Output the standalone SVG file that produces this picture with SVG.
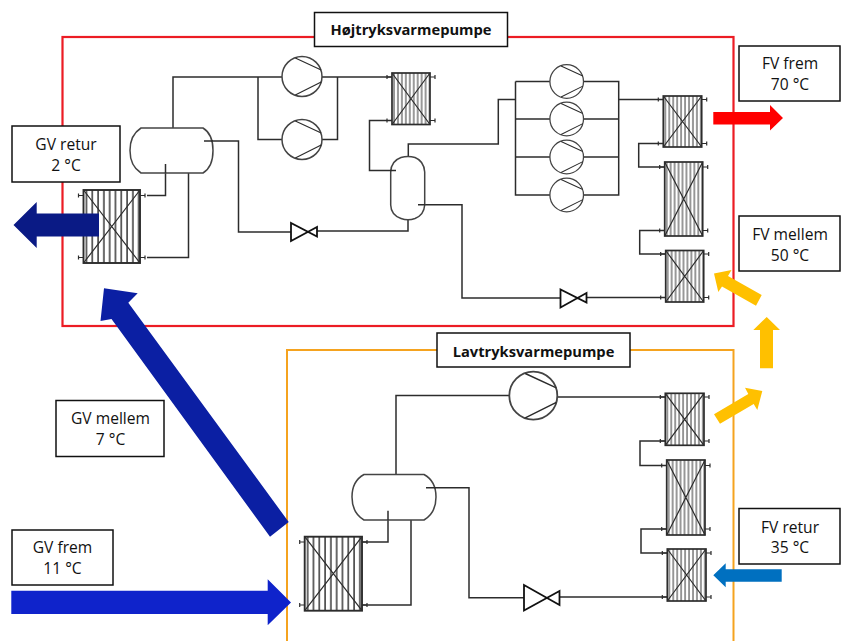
<svg xmlns="http://www.w3.org/2000/svg" width="841" height="641" viewBox="0 0 841 641">
<style>
.pipe{fill:none;stroke:#2c2c2c;stroke-width:1.5}
.hxb{fill:url(#h4);stroke:#2c2c2c;stroke-width:1.7}
.hxw{fill:url(#h6);stroke:#2c2c2c;stroke-width:1.9}
.x{fill:none;stroke:#2c2c2c;stroke-width:1.2}
.drum{fill:#fff;stroke:#444;stroke-width:1.5}
.cp{fill:#fff;stroke:#444;stroke-width:1.5}
.valve{fill:#fff;stroke:#111;stroke-width:1.8}
.lbl{fill:#fff;stroke:#111;stroke-width:1.5}
text{font-family:"Open Sans","Noto Sans","Liberation Sans",sans-serif;font-size:15.6px;fill:#111;text-anchor:middle}
.t{font-weight:700;font-size:14.7px}
</style>
<defs>
<pattern id="h4" width="3.95" height="10" patternUnits="userSpaceOnUse"><rect width="3.95" height="10" fill="#fff"/><rect x="1.4" width="1.2" height="10" fill="#555"/></pattern>
<pattern id="h6" width="5.8" height="10" patternUnits="userSpaceOnUse"><rect width="5.8" height="10" fill="#fff"/><rect x="2.2" width="1.6" height="10" fill="#444"/></pattern>
<g id="comp"><circle r="20" class="cp"/><path class="x" d="M-6.700-18.500 19.200-6.500M-6.700 18.500 19.200 5.500"/></g>
<path id="pL" d="M0 0H-5M-5-2V2" class="x"/>
<path id="pR" d="M0 0H5M5-2V2" class="x"/>
</defs>

<rect id="hp-frame" x="62.500" y="37" width="671" height="289" fill="none" stroke="#ec1c24" stroke-width="2.200"/>
<rect id="lp-frame" x="287" y="350" width="446.500" height="300" fill="none" stroke="#f5a31f" stroke-width="2"/>

<g id="connectors" class="pipe">
<path d="M173 128V77H282M258 77V139.500H282M322 77H392M337.500 77V139.500H322"/>
<path d="M204 141H238.500V232H291M317 231H408V220"/>
<path d="M165.500 164V195.500H147M188.500 173V257.500H147"/>
<path d="M392 120.500H369.500V170.500H396M408.300 157V144H498.300V99.500H515.500"/>
<path d="M515.500 81.500V195H550M515.500 81.500H550M515.500 119H550M515.500 157H550M584 81.500H618.700V195H584M584 119H618.700M584 157H618.700M618.700 99.500H663"/>
<path d="M663 143.500H638.700V167H664.700M664.700 230.500H639.700V254H665.700"/>
<path d="M418 204.700H462V298H560M587 297.500H665.700"/>
<path d="M396 474.500V395.500H510M557 397H665.300"/>
<path d="M665.300 441H640V465.500H666.700M666.700 529H641V553H667.300"/>
<path d="M426 487.700H469V597.700H524M560 597H667.300"/>
<path d="M388 510.700V542H362M411 520V605H362"/>
</g>

<g id="hp-drum-h"><path class="drum" d="M141 128H203Q213 134 213 150.500T203 173H141Q130 166 130 150.500T141 128Z"/><path class="pipe" d="M204 141H213M165.500 164V173"/></g>
<g id="hp-drum-v"><path class="drum" d="M390.700 172Q391 161 401 157.500Q408 155.300 415 157.500Q424 161 424.700 172V205Q424 215 415 218.500Q408 221 401 218.500Q391 215 390.700 205Z"/><path class="pipe" d="M396 170.500H390M418 204.700H425"/></g>
<g id="lp-drum"><path class="drum" d="M364 474.500H424Q436 481 436 497T424 520H364Q352 513 352 497T364 474.500Z"/><path class="pipe" d="M426 487.700H436M388 510.700V520"/></g>

<g id="hx-hp-evap" transform="translate(83.500 190)"><rect class="hxw" width="56.500" height="73"/><path class="x" d="M0 0 56.500 73M56.500 0 0 73"/><use href="#pL" y="5.500"/><use href="#pL" y="67.500"/><use href="#pR" x="56.500" y="5.500"/><use href="#pR" x="56.500" y="67.500"/></g>
<g id="hx-hp-mid" transform="translate(392 73)"><rect class="hxb" width="38" height="51.500"/><path class="x" d="M0 0 38 51.500M38 0 0 51.500"/><use href="#pL" y="4"/><use href="#pL" y="47.500"/><use href="#pR" x="38" y="4"/><use href="#pR" x="38" y="47.500"/></g>
<g id="hx-hp-1" transform="translate(663.300 96)"><rect class="hxb" width="38.400" height="51"/><path class="x" d="M0 0 38.400 51M38.400 0 0 51"/><use href="#pL" y="3.500"/><use href="#pL" y="47.500"/><use href="#pR" x="38.400" y="3.500"/><use href="#pR" x="38.400" y="47.500"/></g>
<g id="hx-hp-2" transform="translate(664.700 162)"><rect class="hxb" width="38" height="74"/><path class="x" d="M0 0 38 74M38 0 0 74"/><use href="#pL" y="5"/><use href="#pL" y="68.500"/><use href="#pR" x="38" y="5"/><use href="#pR" x="38" y="68.500"/></g>
<g id="hx-hp-3" transform="translate(665.700 250.500)"><rect class="hxb" width="38" height="51.500"/><path class="x" d="M0 0 38 51.500M38 0 0 51.500"/><use href="#pL" y="3.500"/><use href="#pL" y="47"/><use href="#pR" x="38" y="3.500"/><use href="#pR" x="38" y="47"/></g>
<g id="hx-lp-1" transform="translate(665.300 393.300)"><rect class="hxb" width="38.700" height="52"/><path class="x" d="M0 0 38.700 52M38.700 0 0 52"/><use href="#pL" y="3.700"/><use href="#pL" y="47.700"/><use href="#pR" x="38.700" y="3.700"/><use href="#pR" x="38.700" y="47.700"/></g>
<g id="hx-lp-2" transform="translate(666.700 460)"><rect class="hxb" width="38.300" height="75"/><path class="x" d="M0 0 38.300 75M38.300 0 0 75"/><use href="#pL" y="5.500"/><use href="#pL" y="69"/><use href="#pR" x="38.300" y="5.500"/><use href="#pR" x="38.300" y="69"/></g>
<g id="hx-lp-3" transform="translate(667.300 549)"><rect class="hxb" width="38.700" height="52"/><path class="x" d="M0 0 38.700 52M38.700 0 0 52"/><use href="#pL" y="4"/><use href="#pL" y="48"/><use href="#pR" x="38.700" y="4"/><use href="#pR" x="38.700" y="48"/></g>
<g id="hx-lp-evap" transform="translate(304.700 536.700)"><rect class="hxw" width="57.300" height="74"/><path class="x" d="M0 0 57.300 74M57.300 0 0 74"/><use href="#pL" y="5.300"/><use href="#pL" y="68.300"/><use href="#pR" x="57.300" y="5.300"/><use href="#pR" x="57.300" y="68.300"/></g>

<g id="cp-hp-1"><use href="#comp" transform="translate(302 76.500)"/></g>
<g id="cp-hp-2"><use href="#comp" transform="translate(302 139.500)"/></g>
<g id="cp-hp-3"><use href="#comp" transform="translate(566.700 81.500) scale(.84)"/></g>
<g id="cp-hp-4"><use href="#comp" transform="translate(566.700 119) scale(.84)"/></g>
<g id="cp-hp-5"><use href="#comp" transform="translate(566.700 157) scale(.84)"/></g>
<g id="cp-hp-6"><use href="#comp" transform="translate(566.700 195) scale(.84)"/></g>
<g id="cp-lp"><use href="#comp" transform="translate(533.300 395.700) scale(1.2)"/></g>

<path id="valve-hp-1" class="valve" d="M291 223V241L317 227V236.500Z"/>
<path id="valve-hp-2" class="valve" d="M560.500 289.500V307.500L586.500 293V302.500Z"/>
<path id="valve-lp" class="valve" d="M524 585V610.500L559.500 591V605Z"/>

<polygon id="arrow-gv-retur" fill="#0a1a85" points="99,213.500 36.700,213.500 36.700,202 13.500,225 36.700,248 36.700,236.500 99,236.500"/>
<polygon id="arrow-gv-mellem" fill="#0b1fa3" points="104,288.300 137.700,293.300 128.300,302.700 288.700,522 270,536.700 111.500,319 100.500,321"/>
<polygon id="arrow-gv-frem" fill="#0f23cb" points="11.300,590.700 267.700,590.700 267.700,579.300 291,602.500 267.700,625.300 267.700,614 11.300,614"/>
<polygon id="arrow-fv-frem" fill="#ff0000" points="713.300,112 770,112 770,105 783,118 770,130.600 770,124.500 713.300,124.500"/>
<polygon id="arrow-y-1" fill="#ffc000" points="714,273.500 731.500,270 728,276 761.700,295 756,305.700 722,286.500 718.300,292"/>
<polygon id="arrow-y-2" fill="#ffc000" points="766.700,317 780,330 773,330 773,368.300 760,368.300 760,330 753.300,330"/>
<polygon id="arrow-y-3" fill="#ffc000" points="714,414.300 748.300,394 745,387.700 762.300,391 757.300,410 753.700,404 720,423.700"/>
<polygon id="arrow-fv-retur" fill="#0070c0" points="713.300,575.300 725.700,563.300 725.700,569.300 781.700,569.300 781.700,581.700 725.700,581.700 725.700,587.300"/>

<g id="title-hp"><rect class="lbl" x="314.500" y="12.500" width="193" height="34"/><text class="t" x="411" y="35">Højtryksvarmepumpe</text></g>
<g id="title-lp"><rect class="lbl" x="437" y="333" width="193" height="34"/><text class="t" x="533.500" y="356.700">Lavtryksvarmepumpe</text></g>
<g id="gv-retur"><rect class="lbl" x="12" y="126" width="108" height="56"/><text x="66" y="150">GV retur</text><text x="66" y="171">2 °C</text></g>
<g id="fv-frem"><rect class="lbl" x="739" y="46" width="101" height="55"/><text x="790" y="69">FV frem</text><text x="790" y="90">70 °C</text></g>
<g id="fv-mellem"><rect class="lbl" x="739" y="216" width="101" height="55"/><text x="790" y="240">FV mellem</text><text x="790" y="261">50 °C</text></g>
<g id="gv-mellem"><rect class="lbl" x="56" y="400.500" width="108" height="56"/><text x="110.500" y="424">GV mellem</text><text x="110.500" y="445">7 °C</text></g>
<g id="gv-frem"><rect class="lbl" x="12" y="530" width="101" height="55"/><text x="62.500" y="552.700">GV frem</text><text x="62.500" y="574">11 °C</text></g>
<g id="fv-retur"><rect class="lbl" x="739" y="508.500" width="101" height="55.500"/><text x="790" y="532.700">FV retur</text><text x="790" y="553.300">35 °C</text></g>
</svg>
